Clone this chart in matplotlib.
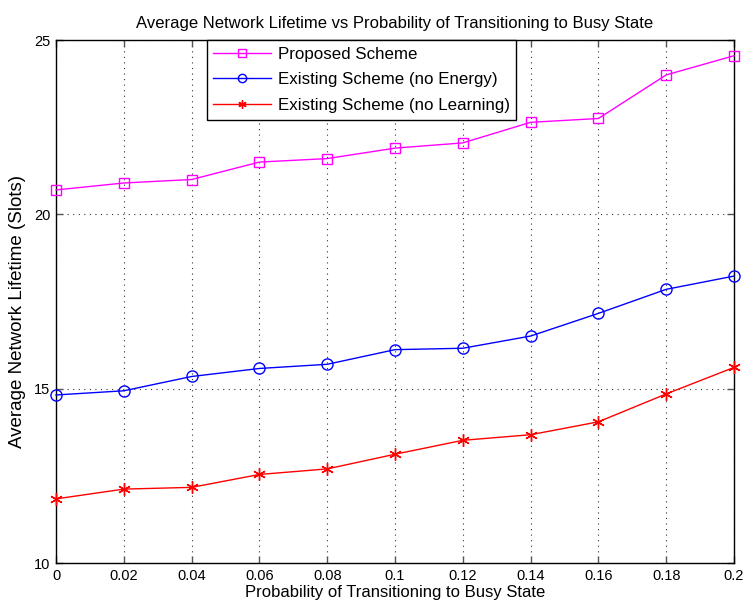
import numpy as np
import matplotlib
matplotlib.use('Agg')
import matplotlib.pyplot as plt

plt.rcParams['font.family'] = ['Liberation Sans', 'DejaVu Sans']

prob = [0, 0.02, 0.04, 0.06, 0.08, 0.10, 0.12, 0.14, 0.16, 0.18, 0.20]
proposed = [20.70, 20.90, 21.00, 21.50, 21.60, 21.90, 22.05, 22.64, 22.75, 24.00, 24.55]
no_energy = [14.82, 14.94, 15.35, 15.58, 15.70, 16.12, 16.16, 16.51, 17.16, 17.85, 18.23]
no_learning = [11.84, 12.12, 12.17, 12.54, 12.70, 13.12, 13.52, 13.68, 14.05, 14.85, 15.61]

x_ticks = [0, 0.02, 0.04, 0.06, 0.08, 0.1, 0.12, 0.14, 0.16, 0.18, 0.2]
x_ticklabels = ['0', '0.02', '0.04', '0.06', '0.08', '0.1', '0.12', '0.14', '0.16', '0.18', '0.2']
y_ticks = [10, 15, 20, 25]

fig = plt.figure(figsize=(7.47, 6.16), dpi=100)
ax = fig.add_axes([0.075, 0.086, 0.9076, 0.849])

ax.plot(prob, proposed, color='magenta', marker='s', markersize=7, markerfacecolor='none',
        markeredgewidth=1.0, linewidth=1.0, label='Proposed Scheme', clip_on=False, zorder=3)
ax.plot(prob, no_energy, color='blue', marker='o', markersize=8, markerfacecolor='none',
        markeredgewidth=1.0, linewidth=1.0, label='Existing Scheme (no Energy)', clip_on=False, zorder=3)
ax.plot(prob, no_learning, color='red', marker=(6, 2, 0), markersize=9,
        markeredgewidth=1.0, linewidth=1.0, label='Existing Scheme (no Learning)', clip_on=False, zorder=3)

ax.set_xlim(0, 0.2)
ax.set_ylim(10, 25)
ax.set_xticks(x_ticks)
ax.set_xticklabels(x_ticklabels)
ax.set_yticks(y_ticks)
ax.tick_params(direction='in', length=5, width=1, color='#555555', labelsize=10.5,
               top=True, right=True, pad=4)
ax.grid(True, linestyle=(0, (1, 4)), color='#333333', linewidth=0.8)
for s in ax.spines.values():
    s.set_linewidth(1.0)

ax.set_xlabel('Probability of Transitioning to Busy State', fontsize=12, labelpad=2)
ax.set_ylabel('Average Network Lifetime (Slots)', fontsize=13.5)
ax.yaxis.set_label_coords(-0.045, 0.48)
ax.set_title('Average Network Lifetime vs Probability of Transitioning to Busy State',
             fontsize=12, pad=9)

leg = ax.legend(loc='upper left', bbox_to_anchor=(0.222, 1.0), fontsize=12.2,
                fancybox=False, framealpha=1, edgecolor='black', handlelength=3.4,
                handletextpad=0.4, borderaxespad=0, labelspacing=0.62, borderpad=0.4)
leg.get_frame().set_linewidth(1.0)
for h in leg.legend_handles:
    h.set_markersize(6)

fig.savefig('out.png', dpi=100)
